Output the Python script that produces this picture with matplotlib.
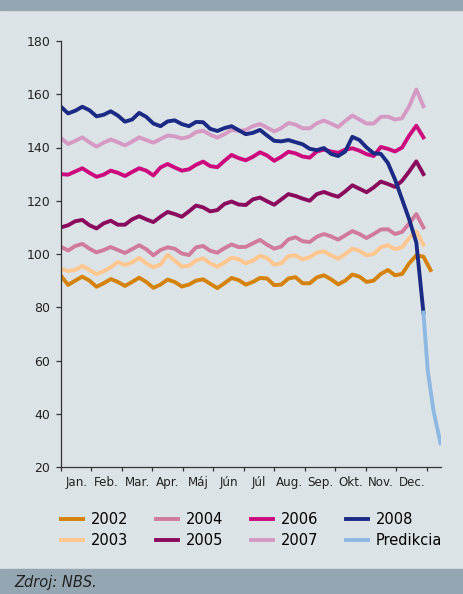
import numpy as np
import matplotlib
matplotlib.use("Agg")
import matplotlib.pyplot as plt
from matplotlib.patches import Rectangle

# weekly index values, one list per year
y2002 = [91.8, 88.4, 90.0, 91.5, 90.0, 87.7, 89.0, 90.6, 89.5, 88.0, 89.5, 91.1, 89.5,
         87.3, 88.5, 90.4, 89.5, 87.8, 88.5, 90.0, 90.5, 88.8, 87.2, 89.0, 91.0, 90.2,
         88.5, 89.5, 91.0, 90.8, 88.3, 88.5, 90.8, 91.3, 89.0, 89.0, 91.2, 92.0, 90.5,
         88.6, 90.0, 92.3, 91.5, 89.5, 90.0, 92.5, 94.0, 92.0, 92.5, 96.5, 99.5, 99.0, 94.0]
y2003 = [94.4, 93.6, 94.0, 95.5, 94.0, 92.4, 93.5, 95.0, 97.0, 95.9, 96.8, 98.6, 96.5,
         95.0, 96.0, 99.7, 97.5, 95.3, 95.6, 97.5, 98.4, 96.5, 95.2, 96.8, 98.6, 98.0,
         96.5, 97.5, 99.3, 98.5, 96.0, 96.5, 99.2, 99.5, 98.0, 98.8, 100.5, 101.0, 99.5,
         98.2, 100.0, 102.0, 101.2, 99.5, 100.0, 102.5, 103.3, 101.8, 102.5, 106.0, 108.5, 103.5]
y2004 = [102.7, 101.3, 103.0, 103.8, 102.0, 100.6, 101.5, 102.6, 101.5, 100.4, 101.8, 103.3, 101.8,
         99.5, 101.5, 102.5, 102.0, 100.2, 99.6, 102.5, 103.0, 101.2, 100.5, 102.2, 103.6, 102.6,
         102.7, 104.0, 105.3, 103.5, 102.0, 102.8, 105.5, 106.3, 104.8, 104.5, 106.5, 107.5, 106.6,
         105.4, 107.0, 108.6, 107.5, 106.0, 107.5, 109.2, 109.3, 107.5, 108.3, 111.5, 115.0, 110.0]
y2005 = [110.0, 110.8, 112.3, 112.8, 110.8, 109.6, 111.5, 112.5, 111.0, 111.0, 113.0, 114.2, 113.0,
         112.0, 114.0, 115.8, 115.0, 114.0, 116.0, 118.2, 117.5, 116.0, 116.5, 118.8, 119.7, 118.6,
         118.4, 120.5, 121.2, 119.8, 118.5, 120.5, 122.5, 121.8, 120.8, 120.0, 122.5, 123.3, 122.3,
         121.5, 123.5, 125.8, 124.5, 123.2, 125.0, 127.2, 126.3, 125.2, 127.5, 131.0, 134.8, 130.0]
y2006 = [130.0, 129.8, 131.0, 132.2, 130.5, 129.0, 129.8, 131.3, 130.5, 129.3, 130.8, 132.2, 131.3,
         129.5, 132.5, 133.8, 132.5, 131.3, 131.8, 133.5, 134.7, 133.0, 132.6, 135.0, 137.2, 136.0,
         135.2, 136.5, 138.2, 137.0, 135.0, 136.5, 138.4, 137.8, 136.6, 136.2, 138.5, 139.2, 138.5,
         138.0, 139.2, 139.7, 138.8, 137.5, 136.8, 140.2, 139.5, 138.5, 140.0, 144.5, 148.2, 143.8]
y2007 = [143.5, 141.3, 142.5, 143.8, 142.0, 140.3, 141.8, 143.0, 142.0, 140.8, 142.2, 143.8, 142.8,
         141.8, 143.2, 144.5, 144.2, 143.4, 144.0, 145.8, 146.3, 144.8, 143.7, 145.0, 146.6, 146.2,
         146.6, 148.0, 148.8, 147.5, 146.0, 147.3, 149.2, 148.6, 147.2, 147.2, 149.1, 150.1, 149.0,
         147.7, 150.0, 152.0, 150.5, 149.0, 149.0, 151.5, 151.6, 150.5, 151.0, 155.5, 161.8, 155.5]
y2008 = [155.3, 152.8, 153.8, 155.3, 154.0, 151.7, 152.3, 153.6, 152.0, 149.7, 150.5, 153.0, 151.5,
         149.0, 148.0, 149.8, 150.2, 148.8, 148.0, 149.6, 149.5, 147.0, 146.2, 147.3, 148.0, 146.5,
         145.0, 145.5, 146.6, 144.5, 142.5, 142.3, 142.8, 142.0, 141.2, 139.5, 139.0, 139.8, 137.6,
         136.8, 138.5, 144.0, 142.8, 140.0, 137.8, 137.6, 134.2, 128.0, 120.5, 113.0, 104.3, 78.0]
pred_weeks = [51, 51.6, 52.4, 53.4]
pred_vals = [78.0, 56.4, 41.4, 28.9]

years = ["2002", "2003", "2004", "2005", "2006", "2007", "2008"]
series = [y2002, y2003, y2004, y2005, y2006, y2007, y2008]
colors = ["#D4820C", "#FFC68E", "#D07A9C", "#8A0B5D", "#CC0A7E", "#D59AC3", "#1B2A84"]
pred_color = "#8DB8E2"
months = ["Jan.", "Feb.", "Mar.", "Apr.", "Máj", "Jún", "Júl", "Aug.", "Sep.", "Okt.", "Nov.", "Dec."]

bg = "#DCE3E6"
band = "#94A6B1"
weeks_per_year = 51.5

fig = plt.figure(figsize=(4.64, 5.94), dpi=100, facecolor=bg)
fig.patches.append(Rectangle((0, 1 - 10 / 594), 1, 10 / 594, transform=fig.transFigure,
                             color=band, zorder=0))
fig.patches.append(Rectangle((0, 0), 1, 25 / 594, transform=fig.transFigure,
                             color=band, zorder=0))

ax = fig.add_axes([61 / 464, 127 / 594, 380 / 464, 426 / 594])
ax.set_facecolor(bg)

for name, vals, c in zip(years, series, colors):
    x = np.arange(len(vals)) * 12 / weeks_per_year
    ax.plot(x, vals, color=c, lw=2.8, label=name, solid_joinstyle="round")
ax.plot(np.array(pred_weeks) * 12 / weeks_per_year, pred_vals, color=pred_color, lw=2.8,
        label="Predikcia")

ax.set_xlim(0, 12.46)
ax.set_ylim(20, 180)
ax.set_yticks(np.arange(20, 181, 20))
ax.set_xticks(np.arange(0, 13))
ax.set_xticklabels([])
ax.set_xticks(np.arange(12) + 0.5, minor=True)
ax.set_xticklabels(months, minor=True)
ax.tick_params(axis="x", which="major", length=3.2, width=0.9, color="#333333")
ax.tick_params(axis="x", which="minor", length=0, pad=6.5, labelsize=8.6, labelcolor="#222222")
ax.tick_params(axis="y", length=3.6, width=0.9, color="#333333", pad=4,
               labelsize=9, labelcolor="#222222")
for s in ["top", "right"]:
    ax.spines[s].set_visible(False)
for s in ["left", "bottom"]:
    ax.spines[s].set_color("#333333")
    ax.spines[s].set_linewidth(0.9)

handles, labels = ax.get_legend_handles_labels()
fig.legend(handles, labels, ncol=4, frameon=False, loc="upper left",
           bbox_to_anchor=(61 / 464, 1 - 512 / 594), fontsize=10.5,
           handlelength=1.5, handletextpad=0.55, columnspacing=1.9,
           labelspacing=0.42, borderpad=0, borderaxespad=0, handleheight=0.7)

fig.text(14 / 464, 1 - 582 / 594, "Zdroj: NBS.", fontsize=10.5, style="italic",
         color="#222222", va="center", ha="left")

fig.savefig("out.png", dpi=100, facecolor=bg)
